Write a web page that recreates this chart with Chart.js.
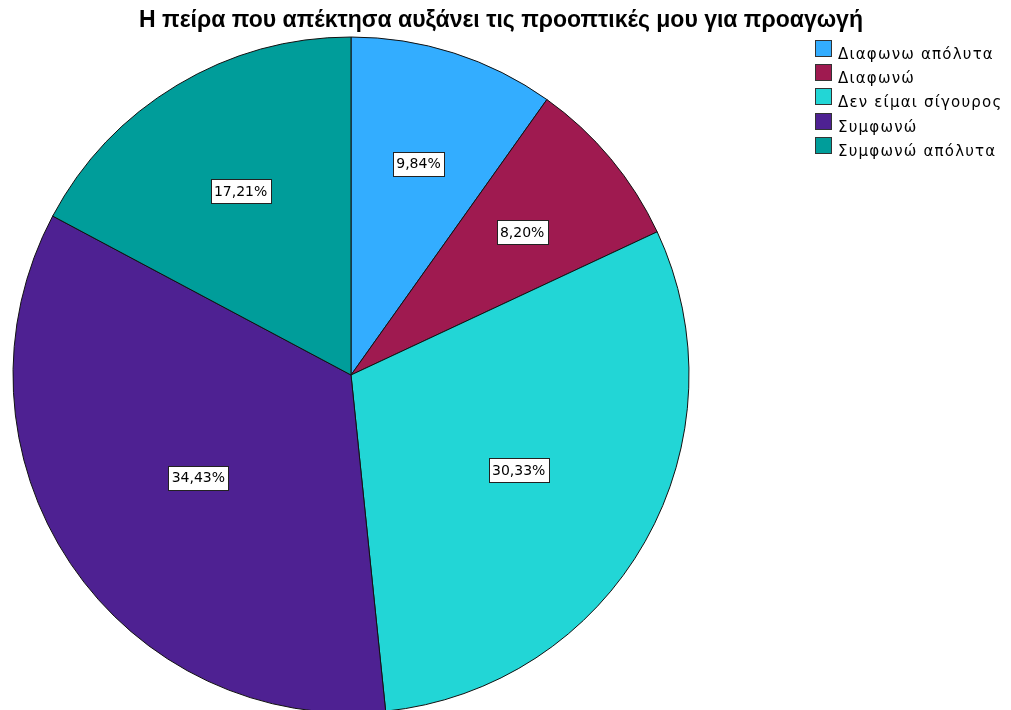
<!DOCTYPE html>
<html>
<head>
<meta charset="utf-8">
<script src="https://cdn.jsdelivr.net/npm/chart.js@4"></script>
<style>
  body { margin: 0; overflow: hidden; background: #fff; }
  #wrap { position: relative; width: 1011px; height: 720px; }
  #titulo { position: absolute; left: 0; top: 6px; width: 1002px; text-align: center; font-family: "Liberation Sans", Arial, sans-serif; font-weight: bold; font-size: 23px; color: #000; white-space: nowrap; }
  #legend { position: absolute; left: 815px; top: 40px; font-family: "DejaVu Sans", sans-serif; font-size: 15px; color: #000; }
  #legend div { height: 24.2px; display: flex; align-items: flex-start; white-space: nowrap; letter-spacing: 1.2px; }
  #legend span.box { display: inline-block; width: 15px; height: 15px; border: 1px solid #333; margin-right: 6px; }
  #legend span.txt { line-height: 20px; margin-top: 4px; }
</style>
</head>
<body>
<div id="wrap">
  <canvas id="pie" width="1011" height="720"></canvas>
  <div id="titulo"></div>
  <div id="legend"></div>
</div>
<script>
  const titulo = 'Η πείρα που απέκτησα αυξάνει τις προοπτικές μου για προαγωγή';
  const categorias = ['Διαφωνω απόλυτα', 'Διαφωνώ', 'Δεν είμαι σίγουρος', 'Συμφωνώ', 'Συμφωνώ απόλυτα'];
  const percentuais = [9.84, 8.20, 30.33, 34.43, 17.21];
  const cores = ['#33adff', '#9f1a50', '#22d6d6', '#4e2192', '#009d9a'];

  // rótulos de porcentagem dentro das fatias (caixa branca com borda)
  const rotulosPlugin = {
    id: 'rotulos',
    afterDatasetsDraw(chart) {
      const ctx = chart.ctx;
      const meta = chart.getDatasetMeta(0);
      ctx.save();
      ctx.font = '14px "DejaVu Sans", sans-serif';
      ctx.textAlign = 'center';
      ctx.textBaseline = 'middle';
      meta.data.forEach((arc, i) => {
        const p = arc.getProps(['x', 'y', 'startAngle', 'endAngle', 'outerRadius'], true);
        const meio = (p.startAngle + p.endAngle) / 2;
        const metade = (p.endAngle - p.startAngle) / 2;
        const d = 2 * p.outerRadius * Math.sin(metade) / (3 * metade);
        const cx = p.x + Math.cos(meio) * d;
        const cy = p.y + Math.sin(meio) * d;
        const texto = percentuais[i].toFixed(2).replace('.', ',') + '%';
        const w = Math.round(ctx.measureText(texto).width + 7);
        const h = 24;
        const x0 = Math.round(cx - w / 2) + 0.5;
        const y0 = Math.round(cy - h / 2) + 0.5;
        ctx.fillStyle = '#fff';
        ctx.fillRect(x0, y0, w, h);
        ctx.strokeStyle = '#222';
        ctx.lineWidth = 1;
        ctx.strokeRect(x0, y0, w, h);
        ctx.fillStyle = '#000';
        ctx.fillText(texto, cx, cy + 1);
      });
      ctx.restore();
    }
  };

  new Chart(document.getElementById('pie').getContext('2d'), {
    type: 'pie',
    data: {
      labels: categorias,
      datasets: [{
        data: percentuais,
        backgroundColor: cores,
        borderColor: '#111',
        borderWidth: 1
      }]
    },
    options: {
      responsive: false,
      animation: false,
      radius: 338,
      layout: { padding: { left: 13, right: 322, top: 37, bottom: 7 } },
      plugins: {
        legend: { display: false },
        tooltip: { enabled: false },
        title: { display: false }
      }
    },
    plugins: [rotulosPlugin]
  });

  document.getElementById('titulo').textContent = titulo;

  // legenda em HTML
  const legenda = document.getElementById('legend');
  categorias.forEach((nome, i) => {
    const item = document.createElement('div');
    item.innerHTML = `<span class="box" style="background:${cores[i]}"></span><span class="txt">${nome}</span>`;
    legenda.appendChild(item);
  });
</script>
</body>
</html>
